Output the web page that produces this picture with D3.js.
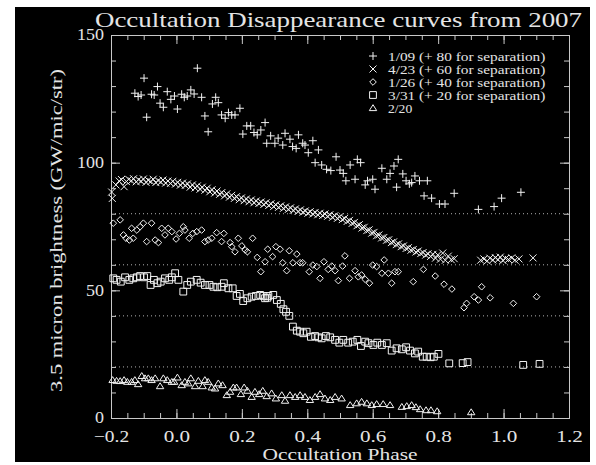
<!DOCTYPE html>
<html>
<head>
<meta charset="utf-8">
<script src="https://cdn.jsdelivr.net/npm/d3@7"></script>
<style>
  body { margin: 0; background: #fff; }
  svg text { font-family: 'Liberation Serif', 'DejaVu Serif', serif; fill: #e4e4e4; }
</style>
</head>
<body>
<svg id="chart" width="596" height="465"></svg>
<script>
// DATA
const titleText = 'Occultation Disappearance curves from 2007';
const xLabel = 'Occultation Phase';
const yLabel = '3.5 micron brightness (GW/mic/str)';
const phaseTicks = [-0.2, 0, 0.2, 0.4, 0.6, 0.8, 1.0, 1.2];
const brightTicks = [0, 50, 100, 150];
const separations = [80, 60, 40, 20, 0];
const legendLabels = [
  '1/09 (+ 80 for separation)',
  '4/23 (+ 60 for separation)',
  '1/26 (+ 40 for separation)',
  '3/31 (+ 20 for separation)',
  '2/20'
];
const symbolNames = ['plus', 'times', 'diamond', 'square', 'triangle'];

// [phase, brightness] before the separation offset
const curve0109 = [[-0.127,47.2],[-0.117,45.9],[-0.108,46.5],[-0.099,53.1],[-0.091,37.8],[-0.076,46.8],[-0.068,46.5],[-0.058,49.8],[-0.050,43.3],[-0.040,41.7],[-0.028,47.8],[-0.017,44.8],[-0.006,46.1],[0.003,41.0],[0.016,46.8],[0.024,45.6],[0.033,46.1],[0.044,48.5],[0.054,46.9],[0.064,57.0],[0.077,45.6],[0.087,38.3],[0.097,32.1],[0.110,43.0],[0.120,45.6],[0.128,43.5],[0.138,38.7],[0.149,37.4],[0.159,39.6],[0.169,38.7],[0.179,38.7],[0.194,41.3],[0.203,31.2],[0.215,34.4],[0.227,34.4],[0.237,31.8],[0.247,30.9],[0.258,32.8],[0.271,35.7],[0.276,27.6],[0.288,30.5],[0.301,27.6],[0.311,29.6],[0.325,26.9],[0.332,31.5],[0.347,29.2],[0.355,26.3],[0.366,25.6],[0.373,30.9],[0.386,27.6],[0.393,26.9],[0.403,23.9],[0.417,28.6],[0.424,20.0],[0.434,25.0],[0.444,19.1],[0.459,17.4],[0.472,16.9],[0.488,22.3],[0.500,17.1],[0.510,15.8],[0.518,12.9],[0.531,19.1],[0.546,13.5],[0.553,21.3],[0.563,20.0],[0.577,11.3],[0.584,12.9],[0.600,13.5],[0.607,9.6],[0.628,17.8],[0.643,13.5],[0.653,15.8],[0.665,18.7],[0.673,10.4],[0.678,21.3],[0.692,15.6],[0.702,12.9],[0.712,11.7],[0.719,12.2],[0.729,14.8],[0.743,12.9],[0.757,7.0],[0.767,12.9],[0.780,6.1],[0.804,3.8],[0.821,3.8],[0.849,8.0],[0.923,1.7],[0.971,2.8],[0.994,6.1],[1.053,8.4]];

const curve0423 = [[-0.198,28.5],[-0.196,26.0],[-0.185,31.3],[-0.175,32.8],[-0.168,33.4],[-0.160,30.6],[-0.153,32.6],[-0.146,33.5],[-0.138,32.9],[-0.131,33.7],[-0.123,32.5],[-0.116,33.3],[-0.108,32.7],[-0.101,33.6],[-0.093,32.3],[-0.086,33.1],[-0.078,32.6],[-0.071,33.5],[-0.063,32.2],[-0.056,33.0],[-0.048,32.4],[-0.041,33.2],[-0.033,32.0],[-0.026,32.8],[-0.018,31.9],[-0.011,32.7],[-0.003,31.6],[0.004,32.3],[0.012,31.2],[0.019,32.0],[0.027,31.1],[0.034,31.7],[0.042,30.4],[0.049,31.3],[0.057,30.1],[0.064,30.9],[0.072,29.6],[0.079,30.4],[0.087,29.2],[0.094,30.0],[0.102,28.6],[0.109,29.4],[0.117,28.1],[0.124,28.9],[0.132,27.6],[0.139,28.3],[0.147,27.0],[0.154,27.8],[0.162,26.5],[0.169,27.2],[0.177,26.0],[0.184,26.7],[0.192,25.5],[0.199,26.2],[0.207,25.1],[0.214,25.8],[0.222,24.7],[0.229,25.4],[0.237,24.3],[0.244,25.0],[0.252,24.0],[0.259,24.6],[0.267,23.6],[0.274,24.3],[0.282,23.2],[0.289,23.9],[0.297,22.8],[0.304,23.5],[0.312,22.5],[0.319,23.1],[0.327,22.1],[0.334,22.7],[0.342,21.7],[0.349,22.3],[0.357,21.3],[0.364,21.9],[0.372,20.9],[0.379,21.5],[0.387,20.6],[0.394,21.1],[0.402,20.2],[0.409,20.8],[0.417,19.9],[0.424,20.5],[0.432,19.6],[0.439,20.2],[0.447,19.3],[0.454,19.9],[0.462,19.0],[0.469,19.6],[0.477,18.6],[0.484,19.2],[0.492,18.2],[0.499,18.8],[0.507,17.7],[0.514,18.2],[0.522,17.0],[0.529,17.4],[0.537,16.2],[0.544,16.6],[0.552,15.3],[0.559,15.7],[0.567,14.4],[0.574,14.7],[0.582,13.4],[0.589,13.7],[0.597,12.4],[0.604,12.7],[0.612,11.4],[0.619,11.7],[0.627,10.5],[0.634,10.7],[0.642,9.6],[0.649,9.8],[0.657,8.7],[0.664,9.0],[0.672,7.9],[0.679,8.2],[0.687,7.1],[0.694,7.4],[0.702,6.4],[0.709,6.7],[0.717,5.7],[0.724,6.0],[0.732,5.0],[0.739,5.4],[0.747,4.4],[0.754,4.8],[0.762,3.8],[0.769,4.3],[0.777,3.3],[0.784,4.1],[0.792,2.6],[0.799,3.9],[0.807,2.2],[0.814,4.6],[0.822,1.8],[0.831,3.4],[0.840,2.0],[0.849,2.4],[0.930,1.8],[0.940,2.3],[0.950,1.5],[0.958,2.6],[0.967,1.9],[0.975,2.8],[0.983,2.0],[0.990,3.0],[0.998,1.7],[1.006,2.5],[1.015,2.1],[1.025,2.7],[1.035,1.8],[1.047,2.3],[1.090,2.7]];

const curve0126 = [[-0.193,36.3],[-0.172,37.6],[-0.162,31.7],[-0.154,30.4],[-0.144,29.7],[-0.137,34.3],[-0.132,30.4],[-0.121,33.6],[-0.111,34.9],[-0.101,36.3],[-0.091,29.1],[-0.076,36.3],[-0.065,29.7],[-0.055,28.7],[-0.045,34.3],[-0.035,31.7],[-0.025,34.3],[-0.014,33.0],[-0.001,30.1],[0.009,32.3],[0.021,34.9],[0.026,33.6],[0.039,30.4],[0.050,32.3],[0.062,33.0],[0.077,33.6],[0.087,29.1],[0.097,29.7],[0.108,30.4],[0.123,32.6],[0.138,29.1],[0.145,32.3],[0.164,28.7],[0.169,27.1],[0.179,25.1],[0.189,30.4],[0.200,27.4],[0.210,25.8],[0.217,25.1],[0.233,30.4],[0.247,22.9],[0.258,17.3],[0.271,21.2],[0.279,26.1],[0.294,23.2],[0.304,27.1],[0.317,26.1],[0.325,20.8],[0.337,17.7],[0.345,25.5],[0.356,20.8],[0.368,24.2],[0.378,20.8],[0.386,20.8],[0.406,17.3],[0.417,19.9],[0.429,19.3],[0.439,14.7],[0.451,21.2],[0.464,18.2],[0.475,19.5],[0.485,17.7],[0.495,13.8],[0.508,19.5],[0.515,23.5],[0.529,14.7],[0.546,17.7],[0.556,15.3],[0.566,16.0],[0.577,14.3],[0.590,12.8],[0.600,19.9],[0.612,19.3],[0.628,16.7],[0.635,21.9],[0.648,16.7],[0.658,12.8],[0.668,17.3],[0.678,17.3],[0.724,13.4],[0.755,18.2],[0.791,15.6],[0.818,12.4],[0.842,10.5],[0.879,3.2],[0.887,4.9],[0.910,7.5],[0.923,6.2],[0.933,11.4],[0.959,7.1],[1.030,4.9],[1.101,7.5]];

const curve0331 = [[-0.193,34.7],[-0.183,34.1],[-0.170,33.4],[-0.157,35.1],[-0.144,34.1],[-0.132,34.7],[-0.121,35.1],[-0.111,35.6],[-0.099,35.1],[-0.089,35.6],[-0.079,32.1],[-0.069,34.1],[-0.058,32.8],[-0.048,33.4],[-0.035,34.7],[-0.022,34.1],[-0.014,35.1],[-0.004,36.7],[0.006,34.1],[0.021,29.5],[0.033,32.1],[0.044,33.4],[0.062,34.1],[0.074,33.0],[0.087,32.1],[0.101,32.1],[0.113,31.4],[0.125,31.2],[0.138,31.4],[0.145,32.8],[0.159,30.8],[0.172,30.8],[0.184,27.8],[0.194,28.6],[0.204,25.8],[0.217,26.9],[0.230,27.5],[0.243,27.8],[0.256,28.2],[0.266,27.8],[0.271,26.9],[0.278,27.1],[0.281,27.8],[0.296,28.2],[0.307,26.2],[0.319,24.7],[0.327,22.6],[0.335,21.6],[0.345,20.0],[0.356,15.8],[0.368,14.2],[0.378,13.8],[0.388,13.2],[0.398,13.8],[0.411,11.8],[0.424,12.1],[0.434,11.6],[0.444,11.2],[0.457,12.1],[0.470,11.6],[0.485,10.6],[0.498,9.5],[0.510,10.6],[0.525,9.5],[0.539,9.9],[0.553,10.6],[0.564,8.2],[0.577,9.9],[0.587,9.3],[0.602,8.6],[0.614,9.5],[0.628,8.6],[0.643,9.3],[0.658,6.4],[0.673,7.3],[0.689,6.9],[0.702,7.7],[0.714,6.4],[0.729,5.3],[0.739,6.0],[0.753,4.0],[0.765,4.0],[0.777,3.8],[0.787,4.0],[0.801,5.1],[0.834,1.4],[0.875,1.5],[0.890,1.9],[1.060,0.8],[1.110,1.2]];

const curve0220 = [[-0.195,14.9],[-0.183,14.6],[-0.172,14.5],[-0.160,14.9],[-0.150,14.2],[-0.137,14.2],[-0.127,14.9],[-0.117,13.3],[-0.106,16.5],[-0.096,15.6],[-0.086,15.6],[-0.076,14.9],[-0.065,15.6],[-0.050,12.5],[-0.040,15.6],[-0.028,14.9],[-0.014,14.2],[-0.007,14.2],[0.003,15.9],[0.016,12.9],[0.026,14.2],[0.036,13.6],[0.044,15.6],[0.057,12.5],[0.067,14.6],[0.080,12.5],[0.087,14.9],[0.097,14.2],[0.108,12.0],[0.118,11.6],[0.128,13.6],[0.141,12.9],[0.154,9.0],[0.164,10.3],[0.174,12.0],[0.184,12.0],[0.197,9.4],[0.207,12.0],[0.217,10.7],[0.230,8.3],[0.240,10.3],[0.253,9.4],[0.264,10.7],[0.276,8.6],[0.291,9.7],[0.304,7.7],[0.322,9.0],[0.332,6.8],[0.347,9.0],[0.363,8.3],[0.378,9.0],[0.393,8.3],[0.408,7.1],[0.424,8.3],[0.439,9.4],[0.454,7.7],[0.470,7.1],[0.485,8.3],[0.505,7.7],[0.531,5.1],[0.551,5.8],[0.566,6.4],[0.582,5.8],[0.597,5.1],[0.612,5.5],[0.632,5.5],[0.653,5.1],[0.689,4.4],[0.704,4.7],[0.719,5.1],[0.732,4.3],[0.745,3.5],[0.763,3.1],[0.778,3.1],[0.797,2.7],[0.901,2.3]];

const curves = [curve0109, curve0423, curve0126, curve0331, curve0220];

// SETUP
let svg = d3.select('svg'),
  margin = { top: 35, right: 27, bottom: 47, left: 111 },
  width = 596 - margin.left - margin.right,
  height = 465 - margin.top - margin.bottom,
  axisColor = '#c8c8c8';

// idl style outline symbols
const shapes = {
  plus: 'M-4,0H4M0,-4V4',
  times: 'M-3.5,-3.5L3.5,3.5M-3.5,3.5L3.5,-3.5',
  diamond: 'M0,-3.3L3.3,0L0,3.3L-3.3,0Z',
  square: 'M-3.4,-3.4H3.4V3.4H-3.4Z',
  triangle: 'M0,-3.3L3.7,2.6H-3.7Z'
};

svg.append('rect')
  .attr('x', 15).attr('y', 7)
  .attr('width', 575).attr('height', 455)
  .attr('fill', '#000');

const x = d3.scaleLinear().domain([-0.2, 1.2]).range([0, width]);
const y = d3.scaleLinear().domain([0, 150]).range([height, 0]);

const minorX = d3.range(0, 29).map(i => -0.2 + i * 0.05);
const minorY = d3.range(0, 16).map(i => i * 10);

let g = svg.append('g')
  .attr('transform', 'translate(' + margin.left + ',' + margin.top + ')');

// SEPARATION LINES
g.selectAll('.sep')
  .data(separations.filter(d => d > 0))
  .join('line')
  .attr('class', 'sep')
  .attr('x1', 0).attr('x2', width)
  .attr('y1', d => y(d)).attr('y2', d => y(d))
  .attr('stroke', '#b0b0b0')
  .attr('stroke-dasharray', '1,3');

// AXES
function axisGroup(axis, tx, ty) {
  const a = g.append('g')
    .attr('transform', 'translate(' + tx + ',' + ty + ')')
    .call(axis);
  a.selectAll('line, path').attr('stroke', axisColor);
  return a;
}
const noLabel = () => '';
axisGroup(d3.axisBottom(x).tickValues(minorX).tickSize(-5).tickSizeOuter(0).tickFormat(noLabel), 0, height);
axisGroup(d3.axisTop(x).tickValues(minorX).tickSize(-5).tickSizeOuter(0).tickFormat(noLabel), 0, 0);
axisGroup(d3.axisLeft(y).tickValues(minorY).tickSize(-5).tickSizeOuter(0).tickFormat(noLabel), 0, 0);
axisGroup(d3.axisRight(y).tickValues(minorY).tickSize(-5).tickSizeOuter(0).tickFormat(noLabel), width, 0);
axisGroup(d3.axisTop(x).tickValues(phaseTicks).tickSize(-9).tickSizeOuter(0).tickFormat(noLabel), 0, 0);
axisGroup(d3.axisRight(y).tickValues(brightTicks).tickSize(-9).tickSizeOuter(0).tickFormat(noLabel), width, 0);

const xAxis = axisGroup(
  d3.axisBottom(x).tickValues(phaseTicks).tickSize(-9).tickSizeOuter(0).tickFormat(d3.format('.1f')),
  0, height);
xAxis.selectAll('text')
  .attr('y', 24).attr('dy', 0)
  .style('font-size', '16px')
  .attr('textLength', function () { return this.textContent.length * 8.8; })
  .attr('lengthAdjust', 'spacingAndGlyphs');

const yAxis = axisGroup(
  d3.axisLeft(y).tickValues(brightTicks).tickSize(-9).tickSizeOuter(0).tickFormat(d3.format('d')),
  0, 0);
yAxis.selectAll('text')
  .attr('x', -7).attr('dy', '0.3em')
  .style('font-size', '16px')
  .attr('textLength', function () { return this.textContent.length * 9; })
  .attr('lengthAdjust', 'spacingAndGlyphs');

// POINTS
curves.forEach((curve, i) => {
  g.append('g')
    .selectAll('path')
    .data(curve)
    .join('path')
    .attr('d', shapes[symbolNames[i]])
    .attr('transform', d => 'translate(' + x(d[0]) + ',' + y(d[1] + separations[i]) + ')')
    .attr('fill', 'none')
    .attr('stroke', '#f2f2f2')
    .attr('stroke-width', 1);
});

// LEGEND
const legend = svg.append('g').attr('transform', 'translate(373,56)');
const rows = legend.selectAll('g')
  .data(legendLabels)
  .join('g')
  .attr('transform', (d, i) => 'translate(0,' + i * 13 + ')');
rows.append('path')
  .attr('d', (d, i) => shapes[symbolNames[i]])
  .attr('fill', 'none')
  .attr('stroke', '#f2f2f2');
rows.append('text')
  .attr('x', 15).attr('y', 4.5)
  .style('font-size', '12.5px')
  .attr('textLength', d => d.length * 6.05)
  .attr('lengthAdjust', 'spacingAndGlyphs')
  .text(d => d);

// TITLES
svg.append('text')
  .attr('x', 338.5).attr('y', 27)
  .attr('text-anchor', 'middle')
  .style('font-size', '21px')
  .attr('textLength', 487)
  .attr('lengthAdjust', 'spacingAndGlyphs')
  .text(titleText);

svg.append('text')
  .attr('x', margin.left + width / 2).attr('y', 460)
  .attr('text-anchor', 'middle')
  .style('font-size', '16px')
  .attr('textLength', 155)
  .attr('lengthAdjust', 'spacingAndGlyphs')
  .text(xLabel);

svg.append('text')
  .attr('transform', 'translate(62,' + (margin.top + height / 2 + 4) + ') rotate(-90)')
  .attr('text-anchor', 'middle')
  .style('font-size', '17px')
  .attr('textLength', 323)
  .attr('lengthAdjust', 'spacingAndGlyphs')
  .text(yLabel);
</script>
</body>
</html>
